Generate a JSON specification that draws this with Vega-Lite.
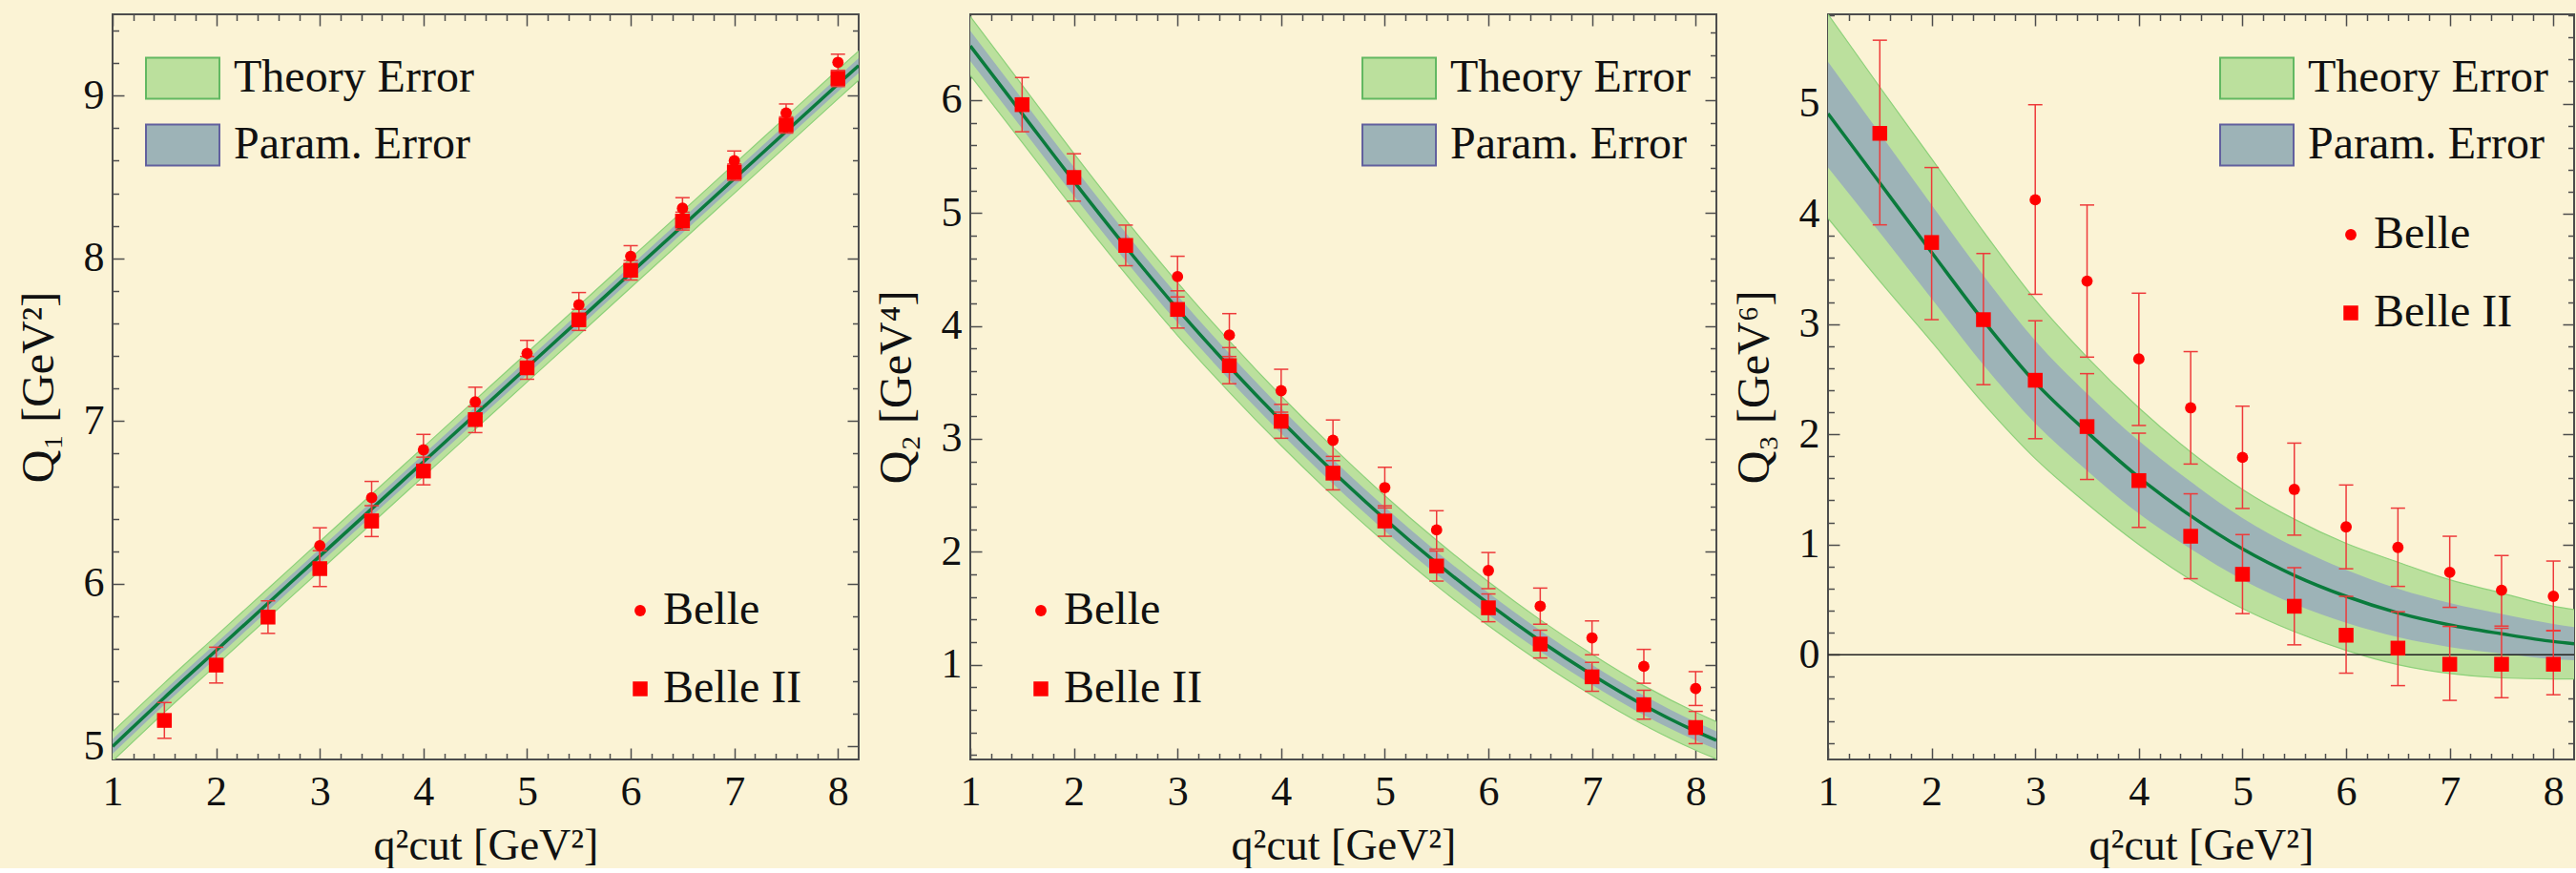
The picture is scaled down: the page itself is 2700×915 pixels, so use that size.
{
"$schema": "https://vega.github.io/schema/vega-lite/v6.json",
"background": "#FBF3D5",
"padding": {"left": 16, "top": 13, "right": 0, "bottom": 0},
"config": {
  "view": {"stroke": "#4D4D4D", "strokeWidth": 2, "fill": null},
  "font": "Liberation Serif",
  "axis": {"domain": false, "grid": false, "labelFont": "Liberation Serif", "labelFontSize": 44, "labelColor": "#111111", "titleFont": "Liberation Serif", "titleFontSize": 46, "titleFontWeight": "normal", "titleColor": "#111111", "tickColor": "#4D4D4D", "tickWidth": 1.5, "labelFlush": false, "labelOverlap": false},
  "legend": {"labelFont": "Liberation Serif", "labelFontSize": 48, "labelColor": "#111111", "labelLimit": 600, "padding": 0, "title": null}
},
"datasets": {
  "curves": [
    {"p":1,"x":1,"c":5.00,"pLo":4.955,"pHi":5.045,"tLo":4.91,"tHi":5.09},
    {"p":1,"x":1.5,"c":5.30,"pLo":5.255,"pHi":5.345,"tLo":5.21,"tHi":5.39},
    {"p":1,"x":2,"c":5.59,"pLo":5.545,"pHi":5.635,"tLo":5.50,"tHi":5.68},
    {"p":1,"x":2.5,"c":5.88,"pLo":5.835,"pHi":5.925,"tLo":5.79,"tHi":5.97},
    {"p":1,"x":3,"c":6.17,"pLo":6.125,"pHi":6.215,"tLo":6.08,"tHi":6.26},
    {"p":1,"x":3.5,"c":6.46,"pLo":6.415,"pHi":6.505,"tLo":6.37,"tHi":6.55},
    {"p":1,"x":4,"c":6.75,"pLo":6.705,"pHi":6.795,"tLo":6.66,"tHi":6.84},
    {"p":1,"x":4.5,"c":7.04,"pLo":6.995,"pHi":7.085,"tLo":6.95,"tHi":7.13},
    {"p":1,"x":5,"c":7.33,"pLo":7.285,"pHi":7.375,"tLo":7.24,"tHi":7.42},
    {"p":1,"x":5.5,"c":7.62,"pLo":7.575,"pHi":7.665,"tLo":7.53,"tHi":7.71},
    {"p":1,"x":6,"c":7.91,"pLo":7.865,"pHi":7.955,"tLo":7.82,"tHi":8.00},
    {"p":1,"x":6.5,"c":8.20,"pLo":8.155,"pHi":8.245,"tLo":8.11,"tHi":8.29},
    {"p":1,"x":7,"c":8.49,"pLo":8.445,"pHi":8.535,"tLo":8.40,"tHi":8.58},
    {"p":1,"x":7.5,"c":8.78,"pLo":8.735,"pHi":8.825,"tLo":8.69,"tHi":8.87},
    {"p":1,"x":8,"c":9.07,"pLo":9.025,"pHi":9.115,"tLo":8.98,"tHi":9.16},
    {"p":1,"x":8.2,"c":9.185,"pLo":9.14,"pHi":9.23,"tLo":9.095,"tHi":9.275},
    {"p":2,"x":1,"c":6.48,"pLo":6.345,"pHi":6.615,"tLo":6.22,"tHi":6.74},
    {"p":2,"x":1.5,"c":5.88,"pLo":5.749,"pHi":6.011,"tLo":5.627,"tHi":6.133},
    {"p":2,"x":2,"c":5.28,"pLo":5.153,"pHi":5.407,"tLo":5.033,"tHi":5.527},
    {"p":2,"x":2.5,"c":4.70,"pLo":4.576,"pHi":4.824,"tLo":4.46,"tHi":4.94},
    {"p":2,"x":3,"c":4.15,"pLo":4.03,"pHi":4.27,"tLo":3.916,"tHi":4.384},
    {"p":2,"x":3.5,"c":3.64,"pLo":3.524,"pHi":3.756,"tLo":3.413,"tHi":3.867},
    {"p":2,"x":4,"c":3.16,"pLo":3.048,"pHi":3.272,"tLo":2.94,"tHi":3.38},
    {"p":2,"x":4.5,"c":2.71,"pLo":2.602,"pHi":2.818,"tLo":2.496,"tHi":2.924},
    {"p":2,"x":5,"c":2.29,"pLo":2.185,"pHi":2.395,"tLo":2.083,"tHi":2.497},
    {"p":2,"x":5.5,"c":1.90,"pLo":1.799,"pHi":2.001,"tLo":1.699,"tHi":2.101},
    {"p":2,"x":6,"c":1.54,"pLo":1.443,"pHi":1.637,"tLo":1.346,"tHi":1.734},
    {"p":2,"x":6.5,"c":1.21,"pLo":1.117,"pHi":1.303,"tLo":1.023,"tHi":1.397},
    {"p":2,"x":7,"c":0.91,"pLo":0.821,"pHi":0.999,"tLo":0.729,"tHi":1.091},
    {"p":2,"x":7.5,"c":0.64,"pLo":0.554,"pHi":0.726,"tLo":0.466,"tHi":0.814},
    {"p":2,"x":8,"c":0.41,"pLo":0.328,"pHi":0.492,"tLo":0.242,"tHi":0.578},
    {"p":2,"x":8.2,"c":0.33,"pLo":0.25,"pHi":0.41,"tLo":0.165,"tHi":0.495},
    {"p":3,"x":1,"c":4.91,"pLo":4.42,"pHi":5.38,"tLo":3.96,"tHi":5.81},
    {"p":3,"x":1.5,"c":4.28,"pLo":3.83,"pHi":4.73,"tLo":3.39,"tHi":5.15},
    {"p":3,"x":2,"c":3.65,"pLo":3.23,"pHi":4.08,"tLo":2.84,"tHi":4.50},
    {"p":3,"x":2.5,"c":3.03,"pLo":2.63,"pHi":3.44,"tLo":2.28,"tHi":3.84},
    {"p":3,"x":3,"c":2.47,"pLo":2.10,"pHi":2.85,"tLo":1.78,"tHi":3.22},
    {"p":3,"x":3.5,"c":2.02,"pLo":1.67,"pHi":2.37,"tLo":1.37,"tHi":2.70},
    {"p":3,"x":4,"c":1.61,"pLo":1.28,"pHi":1.94,"tLo":1.00,"tHi":2.24},
    {"p":3,"x":4.5,"c":1.26,"pLo":0.96,"pHi":1.57,"tLo":0.68,"tHi":1.84},
    {"p":3,"x":5,"c":0.96,"pLo":0.68,"pHi":1.24,"tLo":0.42,"tHi":1.50},
    {"p":3,"x":5.5,"c":0.72,"pLo":0.46,"pHi":0.98,"tLo":0.21,"tHi":1.23},
    {"p":3,"x":6,"c":0.53,"pLo":0.29,"pHi":0.77,"tLo":0.04,"tHi":1.01},
    {"p":3,"x":6.5,"c":0.38,"pLo":0.16,"pHi":0.60,"tLo":-0.09,"tHi":0.84},
    {"p":3,"x":7,"c":0.27,"pLo":0.07,"pHi":0.47,"tLo":-0.17,"tHi":0.68},
    {"p":3,"x":7.5,"c":0.19,"pLo":0.01,"pHi":0.37,"tLo":-0.21,"tHi":0.56},
    {"p":3,"x":8,"c":0.12,"pLo":-0.04,"pHi":0.28,"tLo":-0.22,"tHi":0.44},
    {"p":3,"x":8.2,"c":0.10,"pLo":-0.05,"pHi":0.25,"tLo":-0.22,"tHi":0.41}
  ],
  "pts": [
    {"p":1,"src":"Belle II","x":1.5,"y":5.16,"lo":5.05,"hi":5.27},
    {"p":1,"src":"Belle II","x":2,"y":5.50,"lo":5.39,"hi":5.61},
    {"p":1,"src":"Belle II","x":2.5,"y":5.795,"lo":5.695,"hi":5.895},
    {"p":1,"src":"Belle II","x":3,"y":6.093,"lo":5.983,"hi":6.203},
    {"p":1,"src":"Belle II","x":3.5,"y":6.385,"lo":6.29,"hi":6.48},
    {"p":1,"src":"Belle II","x":4,"y":6.693,"lo":6.608,"hi":6.778},
    {"p":1,"src":"Belle II","x":4.5,"y":7.009,"lo":6.929,"hi":7.089},
    {"p":1,"src":"Belle II","x":5,"y":7.327,"lo":7.257,"hi":7.397},
    {"p":1,"src":"Belle II","x":5.5,"y":7.622,"lo":7.557,"hi":7.687},
    {"p":1,"src":"Belle II","x":6,"y":7.927,"lo":7.867,"hi":7.987},
    {"p":1,"src":"Belle II","x":6.5,"y":8.229,"lo":8.174,"hi":8.284},
    {"p":1,"src":"Belle II","x":7,"y":8.53,"lo":8.48,"hi":8.58},
    {"p":1,"src":"Belle II","x":7.5,"y":8.82,"lo":8.77,"hi":8.87},
    {"p":1,"src":"Belle II","x":8,"y":9.106,"lo":9.056,"hi":9.156},
    {"p":1,"src":"Belle","x":3,"y":6.234,"lo":6.124,"hi":6.344},
    {"p":1,"src":"Belle","x":3.5,"y":6.529,"lo":6.429,"hi":6.629},
    {"p":1,"src":"Belle","x":4,"y":6.823,"lo":6.728,"hi":6.918},
    {"p":1,"src":"Belle","x":4.5,"y":7.118,"lo":7.028,"hi":7.208},
    {"p":1,"src":"Belle","x":5,"y":7.416,"lo":7.336,"hi":7.496},
    {"p":1,"src":"Belle","x":5.5,"y":7.715,"lo":7.64,"hi":7.79},
    {"p":1,"src":"Belle","x":6,"y":8.013,"lo":7.948,"hi":8.078},
    {"p":1,"src":"Belle","x":6.5,"y":8.308,"lo":8.243,"hi":8.373},
    {"p":1,"src":"Belle","x":7,"y":8.60,"lo":8.54,"hi":8.66},
    {"p":1,"src":"Belle","x":7.5,"y":8.894,"lo":8.839,"hi":8.949},
    {"p":1,"src":"Belle","x":8,"y":9.205,"lo":9.155,"hi":9.255},
    {"p":2,"src":"Belle II","x":1.5,"y":5.96,"lo":5.72,"hi":6.20},
    {"p":2,"src":"Belle II","x":2,"y":5.315,"lo":5.105,"hi":5.525},
    {"p":2,"src":"Belle II","x":2.5,"y":4.713,"lo":4.533,"hi":4.893},
    {"p":2,"src":"Belle II","x":3,"y":4.146,"lo":3.981,"hi":4.311},
    {"p":2,"src":"Belle II","x":3.5,"y":3.648,"lo":3.488,"hi":3.808},
    {"p":2,"src":"Belle II","x":4,"y":3.155,"lo":3.005,"hi":3.305},
    {"p":2,"src":"Belle II","x":4.5,"y":2.696,"lo":2.548,"hi":2.844},
    {"p":2,"src":"Belle II","x":5,"y":2.272,"lo":2.137,"hi":2.407},
    {"p":2,"src":"Belle II","x":5.5,"y":1.873,"lo":1.74,"hi":2.006},
    {"p":2,"src":"Belle II","x":6,"y":1.503,"lo":1.38,"hi":1.626},
    {"p":2,"src":"Belle II","x":6.5,"y":1.182,"lo":1.059,"hi":1.305},
    {"p":2,"src":"Belle II","x":7,"y":0.892,"lo":0.764,"hi":1.02},
    {"p":2,"src":"Belle II","x":7.5,"y":0.645,"lo":0.517,"hi":0.773},
    {"p":2,"src":"Belle II","x":8,"y":0.443,"lo":0.30,"hi":0.586},
    {"p":2,"src":"Belle","x":3,"y":4.437,"lo":4.257,"hi":4.617},
    {"p":2,"src":"Belle","x":3.5,"y":3.919,"lo":3.729,"hi":4.109},
    {"p":2,"src":"Belle","x":4,"y":3.426,"lo":3.236,"hi":3.616},
    {"p":2,"src":"Belle","x":4.5,"y":2.987,"lo":2.807,"hi":3.167},
    {"p":2,"src":"Belle","x":5,"y":2.568,"lo":2.388,"hi":2.748},
    {"p":2,"src":"Belle","x":5.5,"y":2.193,"lo":2.023,"hi":2.363},
    {"p":2,"src":"Belle","x":6,"y":1.833,"lo":1.673,"hi":1.993},
    {"p":2,"src":"Belle","x":6.5,"y":1.518,"lo":1.358,"hi":1.678},
    {"p":2,"src":"Belle","x":7,"y":1.237,"lo":1.087,"hi":1.387},
    {"p":2,"src":"Belle","x":7.5,"y":0.985,"lo":0.835,"hi":1.135},
    {"p":2,"src":"Belle","x":8,"y":0.788,"lo":0.638,"hi":0.938},
    {"p":3,"src":"Belle II","x":1.5,"y":4.73,"lo":3.90,"hi":5.575},
    {"p":3,"src":"Belle II","x":2,"y":3.74,"lo":3.04,"hi":4.42},
    {"p":3,"src":"Belle II","x":2.5,"y":3.04,"lo":2.45,"hi":3.64},
    {"p":3,"src":"Belle II","x":3,"y":2.49,"lo":1.96,"hi":3.03},
    {"p":3,"src":"Belle II","x":3.5,"y":2.07,"lo":1.59,"hi":2.55},
    {"p":3,"src":"Belle II","x":4,"y":1.58,"lo":1.155,"hi":2.01},
    {"p":3,"src":"Belle II","x":4.5,"y":1.075,"lo":0.69,"hi":1.46},
    {"p":3,"src":"Belle II","x":5,"y":0.73,"lo":0.373,"hi":1.09},
    {"p":3,"src":"Belle II","x":5.5,"y":0.44,"lo":0.09,"hi":0.79},
    {"p":3,"src":"Belle II","x":6,"y":0.177,"lo":-0.167,"hi":0.53},
    {"p":3,"src":"Belle II","x":6.5,"y":0.06,"lo":-0.28,"hi":0.39},
    {"p":3,"src":"Belle II","x":7,"y":-0.086,"lo":-0.414,"hi":0.257},
    {"p":3,"src":"Belle II","x":7.5,"y":-0.086,"lo":-0.39,"hi":0.24},
    {"p":3,"src":"Belle II","x":8,"y":-0.086,"lo":-0.363,"hi":0.217},
    {"p":3,"src":"Belle","x":3,"y":4.127,"lo":3.27,"hi":4.99},
    {"p":3,"src":"Belle","x":3.5,"y":3.39,"lo":2.70,"hi":4.08},
    {"p":3,"src":"Belle","x":4,"y":2.684,"lo":2.08,"hi":3.28},
    {"p":3,"src":"Belle","x":4.5,"y":2.24,"lo":1.73,"hi":2.75},
    {"p":3,"src":"Belle","x":5,"y":1.79,"lo":1.327,"hi":2.255},
    {"p":3,"src":"Belle","x":5.5,"y":1.50,"lo":1.085,"hi":1.92},
    {"p":3,"src":"Belle","x":6,"y":1.16,"lo":0.78,"hi":1.54},
    {"p":3,"src":"Belle","x":6.5,"y":0.974,"lo":0.62,"hi":1.33},
    {"p":3,"src":"Belle","x":7,"y":0.747,"lo":0.43,"hi":1.075},
    {"p":3,"src":"Belle","x":7.5,"y":0.585,"lo":0.26,"hi":0.90},
    {"p":3,"src":"Belle","x":8,"y":0.53,"lo":0.22,"hi":0.85}
  ],
  "zero": [{"z": 0}]
},
"spacing": 117,
"bounds": "flush",
"resolve": {"scale": {"fill": "independent", "shape": "independent", "size": "independent"}, "legend": {"fill": "independent", "shape": "independent", "size": "independent"}},
"hconcat": [
{
  "width": 782, "height": 781,
  "resolve": {"axis": {"x": "independent", "y": "independent"}},
  "layer": [
    {"data": {"name": "curves"}, "transform": [{"filter": "datum.p === 1"}],
     "mark": {"type": "area", "clip": true, "interpolate": "monotone"},
     "encoding": {
       "x": {"field": "x", "type": "quantitative", "scale": {"domain": [1, 8.2], "nice": false, "zero": false},
             "axis": {"orient": "bottom", "values": [1,1.2,1.4,1.6,1.8,2,2.2,2.4,2.6,2.8,3,3.2,3.4,3.6,3.8,4,4.2,4.4,4.6,4.8,5,5.2,5.4,5.6,5.8,6,6.2,6.4,6.6,6.8,7,7.2,7.4,7.6,7.8,8],
                      "labelExpr": "abs(datum.value-round(datum.value))<0.001 ? format(datum.value, '.0f') : ''",
                      "labelFontSize": {"condition": {"test": "abs(datum.value-round(datum.value))<0.001", "value": 44}, "value": 0},
                      "tickSize": {"condition": {"test": "abs(datum.value-round(datum.value))<0.001", "value": -12}, "value": -6.5},
                      "labelPadding": 24, "title": "q²cut [GeV²]", "titlePadding": 12}},
       "y": {"field": "tLo", "type": "quantitative", "scale": {"domain": [4.92, 9.5], "nice": false, "zero": false},
             "axis": {"orient": "left", "values": [5,5.2,5.4,5.6,5.8,6,6.2,6.4,6.6,6.8,7,7.2,7.4,7.6,7.8,8,8.2,8.4,8.6,8.8,9,9.2,9.4],
                      "labelExpr": "abs(datum.value-round(datum.value))<0.001 ? format(datum.value, '.0f') : ''",
                      "labelFontSize": {"condition": {"test": "abs(datum.value-round(datum.value))<0.001", "value": 44}, "value": 0},
                      "tickSize": {"condition": {"test": "abs(datum.value-round(datum.value))<0.001", "value": -12}, "value": -6.5},
                      "labelPadding": 21, "title": "Q₁  [GeV²]", "titleFontSize": 48, "titlePadding": 22}},
       "y2": {"field": "tHi"},
       "fill": {"datum": "Theory Error", "type": "nominal",
                "scale": {"domain": ["Theory Error", "Param. Error"], "range": ["#BBE09D", "#9DB3B7"]},
                "legend": {"orient": "none", "legendX": 34, "legendY": 27.5, "symbolType": "M-1,-0.56H1V0.56H-1Z", "symbolSize": 5929, "labelOffset": 14, "rowPadding": 4,
                           "encode": {"symbols": {"update": {"fill": {"signal": "datum.value === 'Theory Error' ? '#A9DB8E' : '#ADA9C3'"}, "stroke": {"signal": "datum.value === 'Theory Error' ? '#62B862' : '#62609E'"}, "strokeWidth": {"value": 2}, "opacity": {"value": 1}}}}}}
     }},
    {"data": {"name": "curves"}, "transform": [{"filter": "datum.p === 1"}],
     "mark": {"type": "line", "clip": true, "interpolate": "monotone", "color": "#8DD17A", "strokeWidth": 1.2},
     "encoding": {"x": {"field": "x", "type": "quantitative", "axis": null}, "y": {"field": "tLo", "type": "quantitative", "axis": null}}},
    {"data": {"name": "curves"}, "transform": [{"filter": "datum.p === 1"}],
     "mark": {"type": "line", "clip": true, "interpolate": "monotone", "color": "#8DD17A", "strokeWidth": 1.2},
     "encoding": {"x": {"field": "x", "type": "quantitative", "axis": null}, "y": {"field": "tHi", "type": "quantitative", "axis": null}}},
    {"data": {"name": "curves"}, "transform": [{"filter": "datum.p === 1"}],
     "mark": {"type": "area", "clip": true, "interpolate": "monotone"},
     "encoding": {"x": {"field": "x", "type": "quantitative", "axis": null}, "y": {"field": "pLo", "type": "quantitative", "axis": null}, "y2": {"field": "pHi"},
                  "fill": {"datum": "Param. Error", "type": "nominal"}}},
    {"data": {"name": "curves"}, "transform": [{"filter": "datum.p === 1"}],
     "mark": {"type": "line", "clip": true, "interpolate": "monotone", "color": "#0A7B3C", "strokeWidth": 3.5},
     "encoding": {
       "x": {"field": "x", "type": "quantitative",
             "axis": {"orient": "top", "values": [1,1.2,1.4,1.6,1.8,2,2.2,2.4,2.6,2.8,3,3.2,3.4,3.6,3.8,4,4.2,4.4,4.6,4.8,5,5.2,5.4,5.6,5.8,6,6.2,6.4,6.6,6.8,7,7.2,7.4,7.6,7.8,8], "labels": false, "title": null,
                      "tickSize": {"condition": {"test": "abs(datum.value-round(datum.value))<0.001", "value": -12}, "value": -6.5}}},
       "y": {"field": "c", "type": "quantitative",
             "axis": {"orient": "right", "values": [5,5.2,5.4,5.6,5.8,6,6.2,6.4,6.6,6.8,7,7.2,7.4,7.6,7.8,8,8.2,8.4,8.6,8.8,9,9.2,9.4], "labels": false, "title": null,
                      "tickSize": {"condition": {"test": "abs(datum.value-round(datum.value))<0.001", "value": -12}, "value": -6.5}}}
     }},
    {"data": {"name": "pts"}, "transform": [{"filter": "datum.p === 1"}],
     "mark": {"type": "rule", "color": "#EE3A3A", "strokeWidth": 1.5},
     "encoding": {"x": {"field": "x", "type": "quantitative", "axis": null}, "y": {"field": "lo", "type": "quantitative", "axis": null}, "y2": {"field": "hi"}}},
    {"data": {"name": "pts"}, "transform": [{"filter": "datum.p === 1"}],
     "mark": {"type": "tick", "orient": "horizontal", "size": 15, "thickness": 1.5, "color": "#EE3A3A", "opacity": 1},
     "encoding": {"x": {"field": "x", "type": "quantitative", "axis": null}, "y": {"field": "lo", "type": "quantitative", "axis": null}}},
    {"data": {"name": "pts"}, "transform": [{"filter": "datum.p === 1"}],
     "mark": {"type": "tick", "orient": "horizontal", "size": 15, "thickness": 1.5, "color": "#EE3A3A", "opacity": 1},
     "encoding": {"x": {"field": "x", "type": "quantitative", "axis": null}, "y": {"field": "hi", "type": "quantitative", "axis": null}}},
    {"data": {"name": "pts"}, "transform": [{"filter": "datum.p === 1"}],
     "mark": {"type": "point", "filled": true, "color": "#FF0000", "opacity": 1, "strokeWidth": 0},
     "encoding": {"x": {"field": "x", "type": "quantitative", "axis": null}, "y": {"field": "y", "type": "quantitative", "axis": null},
       "shape": {"field": "src", "type": "nominal", "scale": {"domain": ["Belle", "Belle II"], "range": ["circle", "square"]},
                 "legend": {"orient": "none", "legendX": 529, "legendY": 601, "labelOffset": 0, "rowPadding": 34}},
       "size": {"field": "src", "type": "nominal", "scale": {"domain": ["Belle", "Belle II"], "range": [140, 240]},
                 "legend": {"orient": "none", "legendX": 529, "legendY": 601, "labelOffset": 0, "rowPadding": 34}}}}
  ]
},
{
  "width": 782, "height": 781,
  "resolve": {"axis": {"x": "independent", "y": "independent"}},
  "layer": [
    {"data": {"name": "curves"}, "transform": [{"filter": "datum.p === 2"}],
     "mark": {"type": "area", "clip": true, "interpolate": "monotone"},
     "encoding": {
       "x": {"field": "x", "type": "quantitative", "scale": {"domain": [1, 8.2], "nice": false, "zero": false},
             "axis": {"orient": "bottom", "values": [1,1.2,1.4,1.6,1.8,2,2.2,2.4,2.6,2.8,3,3.2,3.4,3.6,3.8,4,4.2,4.4,4.6,4.8,5,5.2,5.4,5.6,5.8,6,6.2,6.4,6.6,6.8,7,7.2,7.4,7.6,7.8,8],
                      "labelExpr": "abs(datum.value-round(datum.value))<0.001 ? format(datum.value, '.0f') : ''",
                      "labelFontSize": {"condition": {"test": "abs(datum.value-round(datum.value))<0.001", "value": 44}, "value": 0},
                      "tickSize": {"condition": {"test": "abs(datum.value-round(datum.value))<0.001", "value": -12}, "value": -6.5},
                      "labelPadding": 24, "title": "q²cut [GeV²]", "titlePadding": 12}},
       "y": {"field": "tLo", "type": "quantitative", "scale": {"domain": [0.16, 6.76], "nice": false, "zero": false},
             "axis": {"orient": "left", "values": [0.2,0.4,0.6,0.8,1,1.2,1.4,1.6,1.8,2,2.2,2.4,2.6,2.8,3,3.2,3.4,3.6,3.8,4,4.2,4.4,4.6,4.8,5,5.2,5.4,5.6,5.8,6,6.2,6.4,6.6],
                      "labelExpr": "abs(datum.value-round(datum.value))<0.001 ? format(datum.value, '.0f') : ''",
                      "labelFontSize": {"condition": {"test": "abs(datum.value-round(datum.value))<0.001", "value": 44}, "value": 0},
                      "tickSize": {"condition": {"test": "abs(datum.value-round(datum.value))<0.001", "value": -12}, "value": -6.5},
                      "labelPadding": 21, "title": "Q₂  [GeV⁴]", "titleFontSize": 48, "titlePadding": 22}},
       "y2": {"field": "tHi"},
       "fill": {"datum": "Theory Error", "type": "nominal",
                "scale": {"domain": ["Theory Error", "Param. Error"], "range": ["#BBE09D", "#9DB3B7"]},
                "legend": {"orient": "none", "legendX": 410, "legendY": 27.5, "symbolType": "M-1,-0.56H1V0.56H-1Z", "symbolSize": 5929, "labelOffset": 14, "rowPadding": 4,
                           "encode": {"symbols": {"update": {"fill": {"signal": "datum.value === 'Theory Error' ? '#A9DB8E' : '#ADA9C3'"}, "stroke": {"signal": "datum.value === 'Theory Error' ? '#62B862' : '#62609E'"}, "strokeWidth": {"value": 2}, "opacity": {"value": 1}}}}}}
     }},
    {"data": {"name": "curves"}, "transform": [{"filter": "datum.p === 2"}],
     "mark": {"type": "line", "clip": true, "interpolate": "monotone", "color": "#8DD17A", "strokeWidth": 1.2},
     "encoding": {"x": {"field": "x", "type": "quantitative", "axis": null}, "y": {"field": "tLo", "type": "quantitative", "axis": null}}},
    {"data": {"name": "curves"}, "transform": [{"filter": "datum.p === 2"}],
     "mark": {"type": "line", "clip": true, "interpolate": "monotone", "color": "#8DD17A", "strokeWidth": 1.2},
     "encoding": {"x": {"field": "x", "type": "quantitative", "axis": null}, "y": {"field": "tHi", "type": "quantitative", "axis": null}}},
    {"data": {"name": "curves"}, "transform": [{"filter": "datum.p === 2"}],
     "mark": {"type": "area", "clip": true, "interpolate": "monotone"},
     "encoding": {"x": {"field": "x", "type": "quantitative", "axis": null}, "y": {"field": "pLo", "type": "quantitative", "axis": null}, "y2": {"field": "pHi"},
                  "fill": {"datum": "Param. Error", "type": "nominal"}}},
    {"data": {"name": "curves"}, "transform": [{"filter": "datum.p === 2"}],
     "mark": {"type": "line", "clip": true, "interpolate": "monotone", "color": "#0A7B3C", "strokeWidth": 3.5},
     "encoding": {
       "x": {"field": "x", "type": "quantitative",
             "axis": {"orient": "top", "values": [1,1.2,1.4,1.6,1.8,2,2.2,2.4,2.6,2.8,3,3.2,3.4,3.6,3.8,4,4.2,4.4,4.6,4.8,5,5.2,5.4,5.6,5.8,6,6.2,6.4,6.6,6.8,7,7.2,7.4,7.6,7.8,8], "labels": false, "title": null,
                      "tickSize": {"condition": {"test": "abs(datum.value-round(datum.value))<0.001", "value": -12}, "value": -6.5}}},
       "y": {"field": "c", "type": "quantitative",
             "axis": {"orient": "right", "values": [0.2,0.4,0.6,0.8,1,1.2,1.4,1.6,1.8,2,2.2,2.4,2.6,2.8,3,3.2,3.4,3.6,3.8,4,4.2,4.4,4.6,4.8,5,5.2,5.4,5.6,5.8,6,6.2,6.4,6.6], "labels": false, "title": null,
                      "tickSize": {"condition": {"test": "abs(datum.value-round(datum.value))<0.001", "value": -12}, "value": -6.5}}}
     }},
    {"data": {"name": "pts"}, "transform": [{"filter": "datum.p === 2"}],
     "mark": {"type": "rule", "color": "#EE3A3A", "strokeWidth": 1.5},
     "encoding": {"x": {"field": "x", "type": "quantitative", "axis": null}, "y": {"field": "lo", "type": "quantitative", "axis": null}, "y2": {"field": "hi"}}},
    {"data": {"name": "pts"}, "transform": [{"filter": "datum.p === 2"}],
     "mark": {"type": "tick", "orient": "horizontal", "size": 15, "thickness": 1.5, "color": "#EE3A3A", "opacity": 1},
     "encoding": {"x": {"field": "x", "type": "quantitative", "axis": null}, "y": {"field": "lo", "type": "quantitative", "axis": null}}},
    {"data": {"name": "pts"}, "transform": [{"filter": "datum.p === 2"}],
     "mark": {"type": "tick", "orient": "horizontal", "size": 15, "thickness": 1.5, "color": "#EE3A3A", "opacity": 1},
     "encoding": {"x": {"field": "x", "type": "quantitative", "axis": null}, "y": {"field": "hi", "type": "quantitative", "axis": null}}},
    {"data": {"name": "pts"}, "transform": [{"filter": "datum.p === 2"}],
     "mark": {"type": "point", "filled": true, "color": "#FF0000", "opacity": 1, "strokeWidth": 0},
     "encoding": {"x": {"field": "x", "type": "quantitative", "axis": null}, "y": {"field": "y", "type": "quantitative", "axis": null},
       "shape": {"field": "src", "type": "nominal", "scale": {"domain": ["Belle", "Belle II"], "range": ["circle", "square"]},
                 "legend": {"orient": "none", "legendX": 50, "legendY": 601, "labelOffset": 0, "rowPadding": 34}},
       "size": {"field": "src", "type": "nominal", "scale": {"domain": ["Belle", "Belle II"], "range": [140, 240]},
                 "legend": {"orient": "none", "legendX": 50, "legendY": 601, "labelOffset": 0, "rowPadding": 34}}}}
  ]
},
{
  "width": 782, "height": 781,
  "resolve": {"axis": {"x": "independent", "y": "independent"}},
  "layer": [
    {"data": {"name": "curves"}, "transform": [{"filter": "datum.p === 3"}],
     "mark": {"type": "area", "clip": true, "interpolate": "monotone"},
     "encoding": {
       "x": {"field": "x", "type": "quantitative", "scale": {"domain": [1, 8.2], "nice": false, "zero": false},
             "axis": {"orient": "bottom", "values": [1,1.2,1.4,1.6,1.8,2,2.2,2.4,2.6,2.8,3,3.2,3.4,3.6,3.8,4,4.2,4.4,4.6,4.8,5,5.2,5.4,5.6,5.8,6,6.2,6.4,6.6,6.8,7,7.2,7.4,7.6,7.8,8],
                      "labelExpr": "abs(datum.value-round(datum.value))<0.001 ? format(datum.value, '.0f') : ''",
                      "labelFontSize": {"condition": {"test": "abs(datum.value-round(datum.value))<0.001", "value": 44}, "value": 0},
                      "tickSize": {"condition": {"test": "abs(datum.value-round(datum.value))<0.001", "value": -12}, "value": -6.5},
                      "labelPadding": 24, "title": "q²cut [GeV²]", "titlePadding": 12}},
       "y": {"field": "tLo", "type": "quantitative", "scale": {"domain": [-0.95, 5.81], "nice": false, "zero": false},
             "axis": {"orient": "left", "values": [-0.8,-0.6,-0.4,-0.2,0,0.2,0.4,0.6,0.8,1,1.2,1.4,1.6,1.8,2,2.2,2.4,2.6,2.8,3,3.2,3.4,3.6,3.8,4,4.2,4.4,4.6,4.8,5,5.2,5.4,5.6,5.8],
                      "labelExpr": "abs(datum.value-round(datum.value))<0.001 ? format(datum.value, '.0f') : ''",
                      "labelFontSize": {"condition": {"test": "abs(datum.value-round(datum.value))<0.001", "value": 44}, "value": 0},
                      "tickSize": {"condition": {"test": "abs(datum.value-round(datum.value))<0.001", "value": -12}, "value": -6.5},
                      "labelPadding": 21, "title": "Q₃  [GeV⁶]", "titleFontSize": 48, "titlePadding": 22}},
       "y2": {"field": "tHi"},
       "fill": {"datum": "Theory Error", "type": "nominal",
                "scale": {"domain": ["Theory Error", "Param. Error"], "range": ["#BBE09D", "#9DB3B7"]},
                "legend": {"orient": "none", "legendX": 410, "legendY": 27.5, "symbolType": "M-1,-0.56H1V0.56H-1Z", "symbolSize": 5929, "labelOffset": 14, "rowPadding": 4,
                           "encode": {"symbols": {"update": {"fill": {"signal": "datum.value === 'Theory Error' ? '#A9DB8E' : '#ADA9C3'"}, "stroke": {"signal": "datum.value === 'Theory Error' ? '#62B862' : '#62609E'"}, "strokeWidth": {"value": 2}, "opacity": {"value": 1}}}}}}
     }},
    {"data": {"name": "curves"}, "transform": [{"filter": "datum.p === 3"}],
     "mark": {"type": "line", "clip": true, "interpolate": "monotone", "color": "#8DD17A", "strokeWidth": 1.2},
     "encoding": {"x": {"field": "x", "type": "quantitative", "axis": null}, "y": {"field": "tLo", "type": "quantitative", "axis": null}}},
    {"data": {"name": "curves"}, "transform": [{"filter": "datum.p === 3"}],
     "mark": {"type": "line", "clip": true, "interpolate": "monotone", "color": "#8DD17A", "strokeWidth": 1.2},
     "encoding": {"x": {"field": "x", "type": "quantitative", "axis": null}, "y": {"field": "tHi", "type": "quantitative", "axis": null}}},
    {"data": {"name": "curves"}, "transform": [{"filter": "datum.p === 3"}],
     "mark": {"type": "area", "clip": true, "interpolate": "monotone"},
     "encoding": {"x": {"field": "x", "type": "quantitative", "axis": null}, "y": {"field": "pLo", "type": "quantitative", "axis": null}, "y2": {"field": "pHi"},
                  "fill": {"datum": "Param. Error", "type": "nominal"}}},
    {"data": {"name": "curves"}, "transform": [{"filter": "datum.p === 3"}],
     "mark": {"type": "line", "clip": true, "interpolate": "monotone", "color": "#0A7B3C", "strokeWidth": 3.5},
     "encoding": {
       "x": {"field": "x", "type": "quantitative",
             "axis": {"orient": "top", "values": [1,1.2,1.4,1.6,1.8,2,2.2,2.4,2.6,2.8,3,3.2,3.4,3.6,3.8,4,4.2,4.4,4.6,4.8,5,5.2,5.4,5.6,5.8,6,6.2,6.4,6.6,6.8,7,7.2,7.4,7.6,7.8,8], "labels": false, "title": null,
                      "tickSize": {"condition": {"test": "abs(datum.value-round(datum.value))<0.001", "value": -12}, "value": -6.5}}},
       "y": {"field": "c", "type": "quantitative",
             "axis": {"orient": "right", "values": [-0.8,-0.6,-0.4,-0.2,0,0.2,0.4,0.6,0.8,1,1.2,1.4,1.6,1.8,2,2.2,2.4,2.6,2.8,3,3.2,3.4,3.6,3.8,4,4.2,4.4,4.6,4.8,5,5.2,5.4,5.6,5.8], "labels": false, "title": null,
                      "tickSize": {"condition": {"test": "abs(datum.value-round(datum.value))<0.001", "value": -12}, "value": -6.5}}}
     }},
    {"data": {"name": "zero"},
     "mark": {"type": "rule", "color": "#222222", "strokeWidth": 1.5},
     "encoding": {"y": {"field": "z", "type": "quantitative", "axis": null}}},
    {"data": {"name": "pts"}, "transform": [{"filter": "datum.p === 3"}],
     "mark": {"type": "rule", "color": "#EE3A3A", "strokeWidth": 1.5},
     "encoding": {"x": {"field": "x", "type": "quantitative", "axis": null}, "y": {"field": "lo", "type": "quantitative", "axis": null}, "y2": {"field": "hi"}}},
    {"data": {"name": "pts"}, "transform": [{"filter": "datum.p === 3"}],
     "mark": {"type": "tick", "orient": "horizontal", "size": 15, "thickness": 1.5, "color": "#EE3A3A", "opacity": 1},
     "encoding": {"x": {"field": "x", "type": "quantitative", "axis": null}, "y": {"field": "lo", "type": "quantitative", "axis": null}}},
    {"data": {"name": "pts"}, "transform": [{"filter": "datum.p === 3"}],
     "mark": {"type": "tick", "orient": "horizontal", "size": 15, "thickness": 1.5, "color": "#EE3A3A", "opacity": 1},
     "encoding": {"x": {"field": "x", "type": "quantitative", "axis": null}, "y": {"field": "hi", "type": "quantitative", "axis": null}}},
    {"data": {"name": "pts"}, "transform": [{"filter": "datum.p === 3"}],
     "mark": {"type": "point", "filled": true, "color": "#FF0000", "opacity": 1, "strokeWidth": 0},
     "encoding": {"x": {"field": "x", "type": "quantitative", "axis": null}, "y": {"field": "y", "type": "quantitative", "axis": null},
       "shape": {"field": "src", "type": "nominal", "scale": {"domain": ["Belle", "Belle II"], "range": ["circle", "square"]},
                 "legend": {"orient": "none", "legendX": 524, "legendY": 207, "labelOffset": 0, "rowPadding": 34}},
       "size": {"field": "src", "type": "nominal", "scale": {"domain": ["Belle", "Belle II"], "range": [140, 240]},
                 "legend": {"orient": "none", "legendX": 524, "legendY": 207, "labelOffset": 0, "rowPadding": 34}}}}
  ]
}
]
}
